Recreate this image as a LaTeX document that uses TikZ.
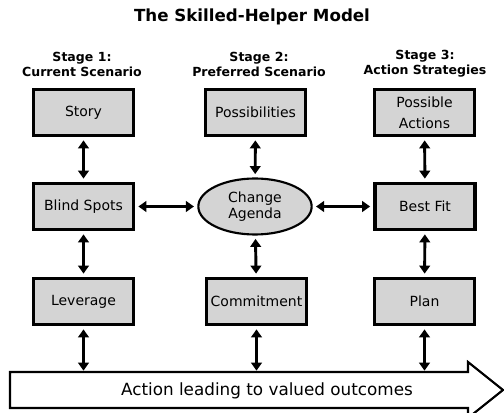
\documentclass[tikz,border=0pt]{standalone}
\usepackage{fontspec}
\setmainfont{DejaVu Sans}
\usetikzlibrary{arrows.meta,shapes.geometric}

\begin{document}
\begin{tikzpicture}[x=0.75pt, y=-0.75pt,
  stagebox/.style={draw=black, line width=2.3pt, fill=black!17,
    minimum width=75pt, minimum height=34.5pt, inner sep=1pt,
    align=center, font=\fontsize{10.5}{16}\selectfont},
  agenda/.style={ellipse, draw=black, line width=1.6pt, fill=black!17,
    minimum width=85pt, minimum height=42pt, inner sep=0pt,
    align=center, font=\fontsize{10.5}{12.5}\selectfont},
  heading/.style={align=center, font=\bfseries\fontsize{9.4}{11.25}\selectfont},
  link/.style={line width=2.2pt, {Triangle[width=8pt,length=6pt]}-{Triangle[width=8pt,length=6pt]},
    shorten <=2.5pt, shorten >=2.5pt}]
\clip (0,0) rectangle (504,413);

% title and stage headings
\node[font=\bfseries\fontsize{12.5}{14}\selectfont] (title) at (252,17) {The Skilled-Helper Model};
\node[heading] (head1) at (82,64) {Stage 1:\\Current Scenario};
\node[heading] (head2) at (259,64) {Stage 2:\\Preferred Scenario};
\node[heading] (head3) at (425,64) {Stage 3:\\Action Strategies};

% the three stages
\node[stagebox] (story) at (83.5,112.5) {Story};
\node[stagebox] (blind) at (83.5,206.5) {Blind Spots};
\node[stagebox] (leverage) at (83.5,301.5) {Leverage};

\node[stagebox] (possible) at (255.5,112.5) {Possibilities};
\node[agenda] (agenda) at (255,206.5) {Change\\Agenda};
\node[stagebox] (commit) at (256.5,301.5) {Commitment};

\node[stagebox] (actions) at (424.5,112.5) {Possible\\Actions};
\node[stagebox] (bestfit) at (425,206.5) {Best Fit};
\node[stagebox] (plan) at (424.5,301.5) {Plan};

% outcome arrow along the bottom
\draw[line width=1.6pt, fill=white] (10,372) -- (468,372) -- (468,362) -- (503,390)
  -- (468,418) -- (468,408) -- (10,408) -- cycle;
\node[font=\fontsize{12.6}{14}\selectfont] (outcome) at (267,391) {Action leading to valued outcomes};
\coordinate (flow1) at (83.5,372);
\coordinate (flow2) at (256.5,372);
\coordinate (flow3) at (424.5,372);

% links
\draw[link] (story) -- (blind);
\draw[link] (blind) -- (leverage);
\draw[link] (possible) -- (agenda);
\draw[link] (agenda) -- (commit);
\draw[link] (actions) -- (bestfit);
\draw[link] (bestfit) -- (plan);
\draw[link] (blind) -- (agenda);
\draw[link] (agenda) -- (bestfit);
\draw[link, shorten >=1pt] (leverage) -- (flow1);
\draw[link, shorten >=1pt] (commit) -- (flow2);
\draw[link, shorten >=1pt] (plan) -- (flow3);
\end{tikzpicture}
\end{document}
